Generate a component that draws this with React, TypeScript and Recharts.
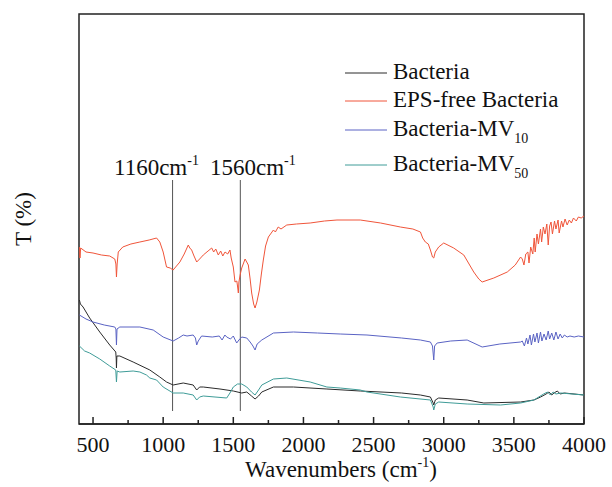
import React from 'react';
import { LineChart, Line, XAxis, YAxis, ReferenceLine, ReferenceArea } from 'recharts';

const FONT = '"Liberation Serif", "Times New Roman", serif';

// wavenumber (cm-1), transmittance (arbitrary, offset spectra)
const bacteria: [number, number][] = [
  [403,124],[410,120],[429,117],[476,106],[548,92],[619,79],[662,72],[665,66],[667,56],[670,68],[691,68],[786,62],[905,54],[976,47],[1024,42],[1071,39],[1143,41],[1214,39],[1239,34],[1260,37],[1286,37],[1405,35],[1500,33],[1560,31],[1596,32],[1630,28],[1655,25],[1680,28],[1703,32],[1786,37],[1929,37],[2167,35],[2405,33],[2700,31],[2834,29],[2905,27],[2925,21],[2929,19],[2940,24],[2964,26],[3167,24],[3286,21],[3548,22],[3643,24],[3691,27],[3730,30],[3750,32],[3770,29],[3786,31],[3810,33],[3830,30],[3860,31],[4000,29],
];

const epsFree: [number, number][] = [
  [403,177],[407,166],[412,176],[450,172],[500,171],[560,169],[619,168],[655,165],[663,160],[667,147],[672,160],[680,172],[712,177],[770,180],[834,182],[900,184],[953,186],[976,182],[1000,172],[1024,157],[1050,156],[1071,154],[1095,158],[1119,162],[1150,170],[1179,179],[1190,176],[1203,174],[1220,168],[1239,162],[1260,165],[1286,169],[1320,173],[1346,176],[1360,172],[1375,175],[1393,169],[1410,173],[1425,168],[1441,172],[1460,170],[1476,174],[1485,166],[1500,157],[1512,142],[1525,143],[1530,138],[1536,131],[1540,142],[1550,150],[1560,156],[1584,165],[1607,159],[1620,145],[1631,131],[1645,120],[1655,116],[1668,122],[1686,134],[1700,150],[1714,164],[1730,178],[1750,187],[1786,194],[1800,192],[1820,197],[1840,195],[1881,199],[1950,200],[2048,201],[2150,203],[2239,204],[2405,204],[2550,201],[2691,197],[2780,195],[2834,192],[2850,186],[2869,182],[2890,180],[2905,174],[2920,167],[2929,166],[2940,172],[2964,177],[3000,181],[3071,176],[3143,169],[3214,152],[3250,145],[3274,142],[3357,146],[3453,152],[3510,159],[3548,167],
  [3560,165],[3572,159],[3585,170],[3600,172],[3608,161],[3620,177],[3635,170],[3645,186],[3652,172],[3665,190],[3675,180],[3690,195],[3698,182],[3710,197],[3722,190],[3735,200],[3745,179],[3755,198],[3765,202],[3775,190],[3790,203],[3800,195],[3815,204],[3823,191],[3840,203],[3850,197],[3865,205],[3880,199],[3895,204],[3910,201],[3925,206],[3945,203],[3960,207],[3980,206],[4000,208],
];

const mv10: [number, number][] = [
  [403,109],[450,105],[500,102],[580,99],[655,97],[663,95],[667,79],[671,95],[691,97],[834,97],[929,94],[1000,87],[1071,83],[1110,86],[1143,89],[1170,88],[1214,89],[1230,86],[1239,79],[1250,83],[1274,88],[1350,87],[1400,88],[1420,84],[1440,89],[1453,87],[1480,85],[1500,88],[1524,81],[1540,84],[1560,87],[1596,86],[1620,82],[1640,78],[1655,74],[1670,80],[1703,84],[1786,91],[1929,92],[2100,91],[2262,90],[2453,89],[2700,86],[2834,84],[2905,82],[2920,78],[2929,64],[2935,78],[2953,81],[3050,83],[3167,84],[3274,77],[3400,80],[3548,82],
  [3560,83],[3575,78],[3590,86],[3600,80],[3615,89],[3625,79],[3640,90],[3650,82],[3665,91],[3675,81],[3690,92],[3700,83],[3715,90],[3730,84],[3745,93],[3755,85],[3770,91],[3785,84],[3800,92],[3815,85],[3830,90],[3845,86],[3860,89],[3880,87],[3900,88],[3930,87],[3960,88],[4000,87],
];

const mv50: [number, number][] = [
  [403,78],[440,73],[476,71],[548,65],[619,58],[662,54],[667,42],[672,53],[691,52],[786,53],[834,52],[881,49],[905,46],[953,44],[1000,37],[1071,31],[1143,31],[1214,29],[1239,24],[1260,27],[1286,28],[1453,26],[1476,31],[1500,37],[1530,40],[1560,40],[1596,37],[1630,32],[1655,29],[1680,34],[1703,39],[1786,45],[1881,46],[2048,42],[2167,37],[2262,36],[2405,34],[2453,32],[2691,27],[2905,24],[2925,17],[2929,14],[2940,20],[2964,22],[3167,20],[3405,19],[3548,21],[3643,24],[3712,30],[3740,32],[3760,29],[3780,32],[3800,30],[3834,31],[4000,29],
];

const seriesNames = ['Bacteria', 'EPS-free Bacteria', 'Bacteria-MV', 'Bacteria-MV'];
const seriesSubs = ['', '', '10', '50'];
const seriesColors = ['#2b2b2b', '#f0553a', '#5a63c4', '#3f9c98'];
const seriesData = [bacteria, epsFree, mv10, mv50];

const xTicks = [500, 750, 1000, 1250, 1500, 1750, 2000, 2250, 2500, 2750, 3000, 3250, 3500, 3750, 4000];
const markerWn = [1067, 1550];
const markerLabels = ['1160cm', '1560cm'];
const markerRange: [number, number] = [13, 244];

const toRows = (arr: [number, number][]) => arr.map(([wn, t]) => ({ wn, t }));

const Tick = (props: any) => {
  const { x, y, payload } = props;
  const v = payload.value;
  const major = v % 500 === 0;
  return (
    <g>
      <line x1={x} x2={x} y1={y} y2={y - (major ? 7 : 4)} stroke="#222" strokeWidth={1.5} />
      {major && (
        <text x={x} y={y + 28} textAnchor="middle" fontSize={22} fontFamily={FONT} fill="#111">
          {v}
        </text>
      )}
    </g>
  );
};

export default function App() {
  const W = 612;
  const H = 487;
  const legendLineY = [73, 101, 130, 165];
  const markerLabelX = [114, 210];
  return (
    <div style={{ position: 'absolute', left: 0, top: 0, width: W, height: H, background: '#fff' }}>
      <LineChart width={W} height={H} margin={{ top: 14, right: 28, left: 79, bottom: 0 }}>
        <XAxis
          dataKey="wn"
          type="number"
          domain={[400, 4000]}
          ticks={xTicks}
          interval={0}
          allowDataOverflow
          height={63}
          tickSize={0}
          tickMargin={0}
          tickLine={false}
          tick={<Tick />}
          axisLine={{ stroke: '#222', strokeWidth: 1.5 }}
        />
        <YAxis type="number" domain={[0, 410]} hide allowDataOverflow />
        <ReferenceArea x1={400} x2={4000} y1={0} y2={410} fill="none" stroke="#222" strokeWidth={1.5} ifOverflow="visible" />
        {markerWn.map((wn, i) => (
          <ReferenceLine
            key={'m' + i}
            segment={[{ x: wn, y: markerRange[0] }, { x: wn, y: markerRange[1] }]}
            stroke="#555"
            strokeWidth={1}
            ifOverflow="visible"
          />
        ))}
        {seriesData.map((d, i) => (
          <Line
            key={i}
            data={toRows(d)}
            dataKey="t"
            name={seriesNames[i] + seriesSubs[i]}
            stroke={seriesColors[i]}
            strokeWidth={1}
            dot={false}
            activeDot={false}
            type="linear"
            isAnimationActive={false}
          />
        ))}
      </LineChart>
      <svg width={W} height={H} style={{ position: 'absolute', left: 0, top: 0, pointerEvents: 'none' }}>
        <text x={31} y={219} transform="rotate(-90 31 219)" textAnchor="middle" fontSize={23} fontFamily={FONT} fill="#111">
          T (%)
        </text>
        <text x={341} y={477} textAnchor="middle" fontSize={23} fontFamily={FONT} fill="#111">
          Wavenumbers (cm
          <tspan fontSize={14} dy={-10}>-1</tspan>
          <tspan dy={10}>)</tspan>
        </text>
        {markerLabels.map((lab, i) => (
          <text key={'ml' + i} x={markerLabelX[i]} y={175} fontSize={23} fontFamily={FONT} fill="#111">
            {lab}
            <tspan fontSize={14} dy={-10}>-1</tspan>
          </text>
        ))}
        {seriesNames.map((n, i) => (
          <g key={'lg' + i}>
            <line x1={345} x2={387} y1={legendLineY[i]} y2={legendLineY[i]} stroke={seriesColors[i]} strokeWidth={1} />
            <text x={393} y={legendLineY[i] + 6} fontSize={23} fontFamily={FONT} fill="#111">
              {n}
              {seriesSubs[i] && (
                <tspan fontSize={14} dy={7}>
                  {seriesSubs[i]}
                </tspan>
              )}
            </text>
          </g>
        ))}
      </svg>
    </div>
  );
}
